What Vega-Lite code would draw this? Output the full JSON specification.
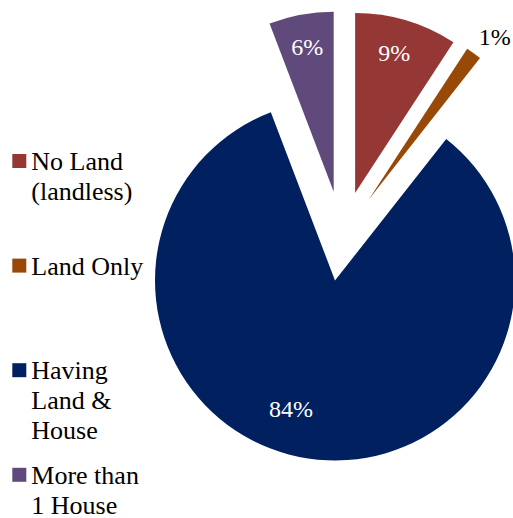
{
  "$schema": "https://vega.github.io/schema/vega-lite/v6.json",
  "width": 342,
  "height": 474,
  "autosize": {"type": "none"},
  "padding": {"left": 171, "top": 0, "right": 0, "bottom": 44},
  "background": "white",
  "config": {"view": {"stroke": null}},
  "data": {
    "values": [
      {"category": "No Land (landless)", "value": 9.2, "order": 1, "label": "9%"},
      {"category": "Land Only", "value": 1.4, "order": 2, "label": "1%"},
      {"category": "Having Land & House", "value": 83.6, "order": 3, "label": "84%"},
      {"category": "More than 1 House", "value": 5.8, "order": 4, "label": "6%"}
    ]
  },
  "encoding": {
    "theta": {"field": "value", "type": "quantitative", "stack": true, "scale": {"domain": [0, 100]}},
    "order": {"field": "order", "type": "quantitative"},
    "detail": {"field": "category", "type": "nominal"},
    "color": {
      "field": "category",
      "type": "nominal",
      "scale": {
        "domain": ["No Land (landless)", "Land Only", "Having Land & House", "More than 1 House"],
        "range": ["#953735", "#984807", "#002060", "#604A7B"]
      },
      "legend": {
        "title": null,
        "orient": "none",
        "legendX": -164.7,
        "legendY": 148,
        "symbolType": "square",
        "symbolSize": 196,
        "symbolStrokeWidth": 0,
        "symbolOpacity": 1,
        "labelFont": "Liberation Serif, Times New Roman, serif",
        "labelFontSize": 26,
        "labelColor": "black",
        "labelOffset": -1,
        "labelLimit": 400,
        "labelBaseline": "top",
        "rowPadding": 17.6,
        "labelExpr": "datum.label == 'No Land (landless)' ? ['No Land', '(landless)', ''] : datum.label == 'Land Only' ? ['Land Only', '', ''] : datum.label == 'Having Land & House' ? ['Having', 'Land &', 'House'] : ['More than', '1 House']",
        "encode": {"labels": {"update": {"dy": {"value": -12}, "lineHeight": {"value": 30}}}}
      }
    }
  },
  "layer": [
    {
      "mark": {"type": "arc", "outerRadius": 180, "xOffset": 13.1, "yOffset": -44.1},
      "encoding": {"opacity": {"condition": {"test": "datum.category == 'No Land (landless)'", "value": 1}, "value": 0}}
    },
    {
      "mark": {"type": "arc", "outerRadius": 180, "xOffset": 26.8, "yOffset": -37.4},
      "encoding": {"opacity": {"condition": {"test": "datum.category == 'Land Only'", "value": 1}, "value": 0}}
    },
    {
      "mark": {"type": "arc", "outerRadius": 180, "xOffset": -7, "yOffset": 43.5},
      "encoding": {"opacity": {"condition": {"test": "datum.category == 'Having Land & House'", "value": 1}, "value": 0}}
    },
    {
      "mark": {"type": "arc", "outerRadius": 180, "xOffset": -8.3, "yOffset": -45.2},
      "encoding": {"opacity": {"condition": {"test": "datum.category == 'More than 1 House'", "value": 1}, "value": 0}}
    },
    {
      "mark": {"type": "text", "radius": 145, "xOffset": 11, "yOffset": -44.1, "font": "Liberation Serif, Times New Roman, serif", "fontSize": 24, "baseline": "middle", "align": "center"},
      "encoding": {
        "text": {"condition": {"test": "datum.category == 'No Land (landless)'", "field": "label", "type": "nominal"}, "value": ""},
        "color": {"value": "white"}
      }
    },
    {
      "mark": {"type": "text", "radius": 204, "xOffset": 34, "yOffset": -33, "font": "Liberation Serif, Times New Roman, serif", "fontSize": 24, "baseline": "middle", "align": "center"},
      "encoding": {
        "text": {"condition": {"test": "datum.category == 'Land Only'", "field": "label", "type": "nominal"}, "value": ""},
        "color": {"value": "black"}
      }
    },
    {
      "mark": {"type": "text", "radius": 137, "xOffset": -30.5, "yOffset": 37.8, "font": "Liberation Serif, Times New Roman, serif", "fontSize": 24, "baseline": "middle", "align": "center"},
      "encoding": {
        "text": {"condition": {"test": "datum.category == 'Having Land & House'", "field": "label", "type": "nominal"}, "value": ""},
        "color": {"value": "white"}
      }
    },
    {
      "mark": {"type": "text", "radius": 146, "xOffset": -8.3, "yOffset": -45.2, "font": "Liberation Serif, Times New Roman, serif", "fontSize": 24, "baseline": "middle", "align": "center"},
      "encoding": {
        "text": {"condition": {"test": "datum.category == 'More than 1 House'", "field": "label", "type": "nominal"}, "value": ""},
        "color": {"value": "white"}
      }
    }
  ]
}
